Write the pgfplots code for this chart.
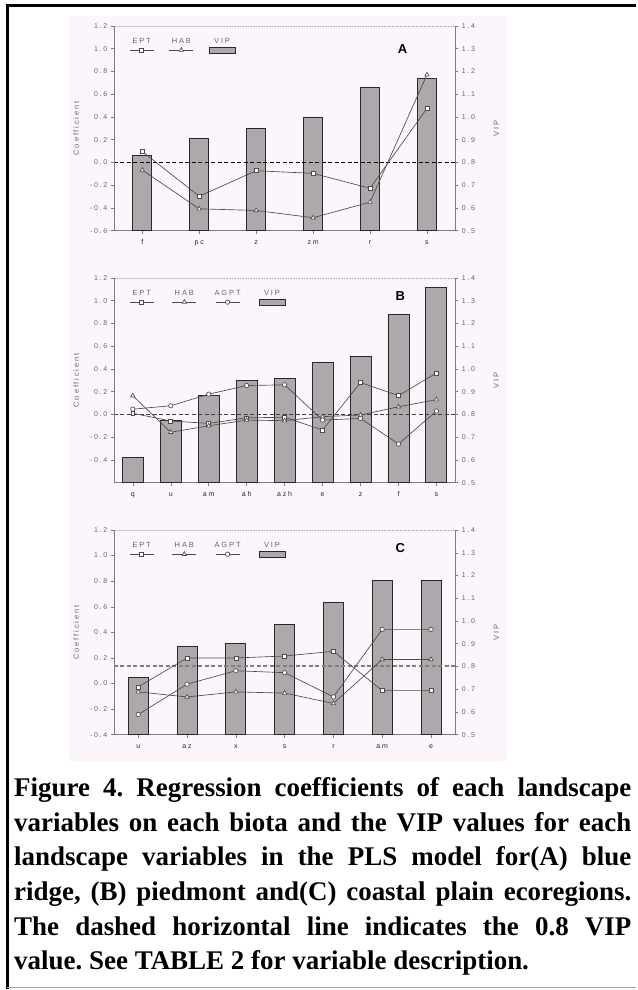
\documentclass[border=0pt]{standalone}
\usepackage{fontspec}
\setmainfont{Liberation Serif}
\newfontfamily\chartsans[LetterSpace=25]{Liberation Sans}
\usepackage{pgfplots}
\usepackage{pgfplotstable}
\pgfplotsset{compat=1.18}
\frenchspacing

\definecolor{pinkbg}{RGB}{252,246,252}
\definecolor{axgray}{RGB}{125,125,125}
\definecolor{labgray}{RGB}{100,100,100}
\definecolor{barfill}{RGB}{172,168,172}
\definecolor{bardraw}{RGB}{40,40,40}
\definecolor{linegray}{RGB}{75,75,75}

\newcommand\tickfont{\chartsans\fontsize{7}{8}\selectfont}
\newcommand\legfont{\chartsans\fontsize{7.5}{8}\selectfont}

% (A) blue ridge
\pgfplotstableread{
x name vip ept hab
0 f 0.83 0.096 -0.067
1 pc 0.905 -0.297 -0.408
2 z 0.95 -0.073 -0.422
3 zm 1.00 -0.096 -0.486
4 r 1.13 -0.227 -0.349
5 s 1.17 0.475 0.771
}\tabA

% (B) piedmont
\pgfplotstableread{
x name vip ept hab agpt
0 q 0.61 0.010 0.164 0.046
1 u 0.775 -0.058 -0.157 0.076
2 am 0.885 -0.079 -0.100 0.178
3 ah 0.95 -0.030 -0.050 0.254
4 azh 0.96 -0.025 -0.055 0.260
5 e 1.03 -0.137 -0.020 -0.050
6 z 1.055 0.280 -0.005 -0.035
7 f 1.24 0.165 0.067 -0.260
8 s 1.36 0.364 0.130 0.030
}\tabB

% (C) coastal plain
\pgfplotstableread{
x name vip ept hab agpt
0 u 0.75 -0.026 -0.065 -0.242
1 az 0.886 0.200 -0.105 -0.005
2 x 0.903 0.200 -0.065 0.100
3 s 0.984 0.215 -0.075 0.085
4 r 1.08 0.252 -0.155 -0.104
5 am 1.18 -0.055 0.188 0.423
6 e 1.18 -0.055 0.188 0.423
}\tabC

\pgfplotsset{
  panelbase/.style={
    scale only axis, width=342pt, height=205pt,
    anchor=south west,
    tick align=outside, major tick length=3pt,
    tick style={axgray, line width=0.5pt},
    tick label style={font=\tickfont, text=labgray},
    /pgf/number format/assume math mode=true,
    yticklabel style={/pgf/number format/.cd, fixed, fixed zerofill, precision=1},
    label style={font=\legfont, text=labgray},
  },
  vipaxis/.style={panelbase,
    axis y line*=right, axis x line*=bottom,
    ymin=0.5, ymax=1.4,
    ytick={0.5,0.6,0.7,0.8,0.9,1.0,1.1,1.2,1.3,1.4},
    axis line style={axgray, line width=0.6pt},
    xtick=data,
    xticklabel style={text=black!85, text height=1.6ex, text depth=0.3ex},
    ylabel=VIP,
    ylabel style={at={(axis description cs:1.12,0.5)}, anchor=center},
  },
  coefaxis/.style={panelbase,
    axis y line*=left, axis x line*=top, xtick=\empty,
    y axis line style={axgray, line width=0.6pt},
    x axis line style={axgray!60, densely dotted, line width=0.6pt},
    ylabel=Coefficient,
    ylabel style={at={(axis description cs:-0.11,0.5)}, anchor=center},
    legend columns=-1,
    legend style={at={(axis description cs:0.045,0.94)}, anchor=north west,
      draw=none, fill=none, inner sep=0pt,
      /tikz/every even column/.append style={column sep=11pt}},
  },
  vipbars/.style={ybar, bar width=#1, fill=barfill, draw=bardraw, line width=0.9pt},
  coefline/.style={linegray, line width=0.65pt,
    mark options={fill=white, draw=linegray, solid, line width=0.65pt}},
  namedleg/.style={legend image code/.code={
      \draw[mark repeat=2,mark phase=2,##1] plot coordinates {(0pt,0pt) (12pt,0pt) (24pt,0pt)};
      \node[text=labgray, anchor=base, inner sep=0pt, font=\legfont] at (12pt,6.5pt) {#1};}},
  vipleg/.style={legend image code/.code={
      \draw[fill=barfill, draw=bardraw, line width=0.9pt] (0pt,-3pt) rectangle (26pt,3pt);
      \node[text=labgray, anchor=base, inner sep=0pt, font=\legfont] at (13pt,6.5pt) {VIP};}},
}

\begin{document}
\begin{tikzpicture}[x=1pt,y=1pt]
\path (0,0) rectangle (637,990);
\fill[pinkbg] (69,228) rectangle (508,974);

% ---------- panel A ----------
\begin{axis}[vipaxis, at={(114pt,759pt)}, xmin=-0.5, xmax=5.5,
  xticklabels from table={\tabA}{name}]
  \addplot[vipbars=19pt] table[x=x,y=vip]{\tabA};
  \addplot[black, line width=1.8pt, dash pattern=on 4pt off 2.5pt] coordinates {(-0.5,0.8) (5.5,0.8)};
\end{axis}
\begin{axis}[coefaxis, at={(114pt,759pt)}, xmin=-0.5, xmax=5.5,
  ymin=-0.6, ymax=1.2, ytick={-0.6,-0.4,-0.2,0,0.2,0.4,0.6,0.8,1.0,1.2}]
  \addplot[coefline, mark=square*, mark size=2pt, namedleg=EPT] table[x=x,y=ept]{\tabA};
  \addlegendentry{}
  \addplot[coefline, mark=triangle*, mark size=2.5pt, namedleg=HAB] table[x=x,y=hab]{\tabA};
  \addlegendentry{}
  \addlegendimage{vipleg}
  \addlegendentry{}
  \node[font=\chartsans\bfseries\fontsize{13}{13}\selectfont] at (rel axis cs:0.845,0.888) {A};
\end{axis}

% ---------- panel B ----------
\begin{axis}[vipaxis, at={(114pt,506.7pt)}, xmin=-0.5, xmax=8.5,
  xticklabels from table={\tabB}{name}]
  \addplot[vipbars=21pt] table[x=x,y=vip]{\tabB};
  \addplot[black!75, line width=1.4pt, dash pattern=on 4pt off 2.5pt] coordinates {(-0.5,0.8) (8.5,0.8)};
\end{axis}
\begin{axis}[coefaxis, at={(114pt,506.7pt)}, xmin=-0.5, xmax=8.5,
  ymin=-0.6, ymax=1.2, ytick={-0.4,-0.2,0,0.2,0.4,0.6,0.8,1.0,1.2},
  legend style={/tikz/every even column/.append style={column sep=14pt}}]
  \addplot[coefline, mark=square*, mark size=2pt, namedleg=EPT] table[x=x,y=ept]{\tabB};
  \addlegendentry{}
  \addplot[coefline, mark=triangle*, mark size=2.5pt, namedleg=HAB] table[x=x,y=hab]{\tabB};
  \addlegendentry{}
  \addplot[coefline, mark=*, mark size=2.2pt, namedleg=AGPT] table[x=x,y=agpt]{\tabB};
  \addlegendentry{}
  \addlegendimage{vipleg}
  \addlegendentry{}
  \node[font=\chartsans\bfseries\fontsize{13}{13}\selectfont] at (rel axis cs:0.839,0.912) {B};
\end{axis}

% ---------- panel C ----------
\begin{axis}[vipaxis, at={(114pt,254.3pt)}, xmin=-0.5, xmax=6.5,
  xticklabels from table={\tabC}{name}]
  \addplot[vipbars=20pt] table[x=x,y=vip]{\tabC};
  \addplot[black!50, line width=2pt, dash pattern=on 4pt off 2.5pt] coordinates {(-0.5,0.8) (6.5,0.8)};
\end{axis}
\begin{axis}[coefaxis, at={(114pt,254.3pt)}, xmin=-0.5, xmax=6.5,
  ymin=-0.4, ymax=1.2, ytick={-0.4,-0.2,0,0.2,0.4,0.6,0.8,1.0,1.2},
  legend style={/tikz/every even column/.append style={column sep=14pt}}]
  \addplot[coefline, mark=square*, mark size=2pt, namedleg=EPT] table[x=x,y=ept]{\tabC};
  \addlegendentry{}
  \addplot[coefline, mark=triangle*, mark size=2.5pt, namedleg=HAB] table[x=x,y=hab]{\tabC};
  \addlegendentry{}
  \addplot[coefline, mark=*, mark size=2.2pt, namedleg=AGPT] table[x=x,y=agpt]{\tabC};
  \addlegendentry{}
  \addlegendimage{vipleg}
  \addlegendentry{}
  \node[font=\chartsans\bfseries\fontsize{13}{13}\selectfont] at (rel axis cs:0.839,0.911) {C};
\end{axis}

% ---------- caption ----------
\begin{scope}[every node/.style={anchor=base west, inner sep=0pt,
    font=\bfseries\fontsize{27}{30}\selectfont}]
\node at (14,192.5) {\makebox[618pt][s]{Figure 4. Regression coefficients of each landscape}};
\node at (14,157.8) {\makebox[618pt][s]{variables on each biota and the VIP values for each}};
\node at (14,123.1) {\makebox[618pt][s]{landscape variables in the PLS model for(A) blue}};
\node at (14,88.4) {\makebox[618pt][s]{ridge, (B) piedmont and(C) coastal plain ecoregions.}};
\node at (14,53.7) {\makebox[618pt][s]{The dashed horizontal line indicates the 0.8 VIP}};
\node at (14,19) {value. See TABLE 2 for variable description.};
\end{scope}

% frame
\draw[line width=3pt] (6,984) -- (637,984);
\draw[line width=2.6pt] (7.5,985.5) -- (7.5,0);
\draw[gray!70, line width=1.4pt] (7.5,1.5) -- (637,1.5);
\end{tikzpicture}
\end{document}
